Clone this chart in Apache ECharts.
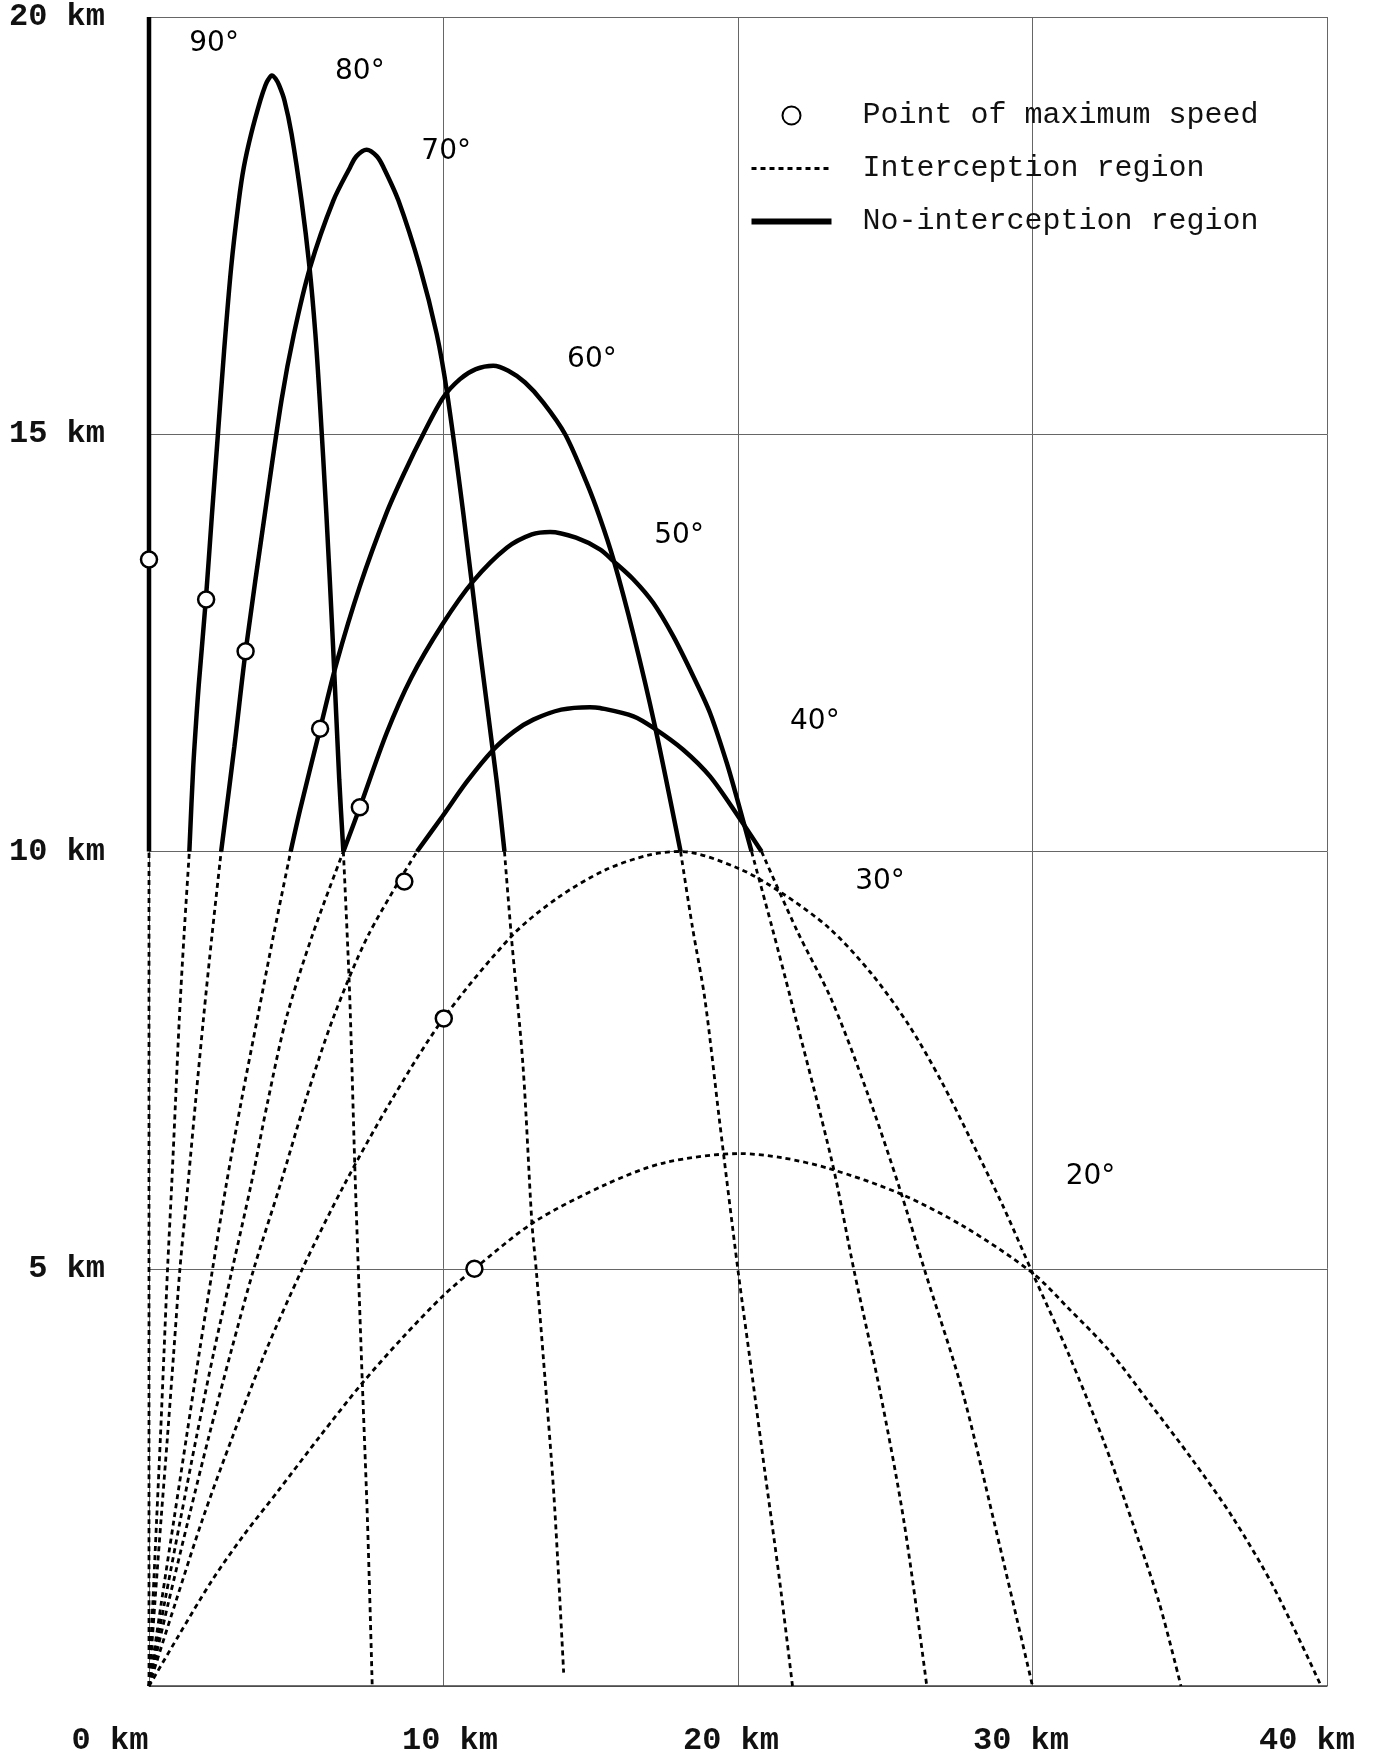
<!DOCTYPE html>
<html>
<head>
<meta charset="utf-8">
<script src="https://cdn.jsdelivr.net/npm/echarts@6/dist/echarts.min.js"></script>
<style>
html,body{margin:0;padding:0;background:#fff;}
#chart{width:1373px;height:1758px;}
</style>
</head>
<body>
<div id="chart"></div>
<script>
// ---- tick labels ----
const xTickValues = [0, 10, 20, 30, 40];
const xTickLabels = ['0 km', '10 km', '20 km', '30 km', '40 km'];
const yTickValues = [5, 10, 15, 20];
const yTickLabels = ['5 km', '10 km', '15 km', '20 km'];

// ---- legend names ----
const legendNames = ['Point of maximum speed', 'Interception region', 'No-interception region'];

// ---- trajectories [x km, y km] ----
const dotted90 = [[0,0],[0,10]];
const solid90 = [[0,10],[0,20]];

const dottedUp80 = [[0,0],[0.13,1],[0.26,2],[0.39,3],[0.51,4],[0.63,5],[0.77,6],[0.9,7],[1.03,8],[1.19,9],[1.37,10]];
const solid80 = [[1.37,10],[1.5,11],[1.62,11.66],[1.69,12],[1.93,13.02],[2.13,14],[2.34,15],[2.55,16],[2.79,17],[3.05,17.8],[3.22,18.2],[3.47,18.6],[3.78,19.0],[3.95,19.18],[4.05,19.25],[4.17,19.3],[4.3,19.26],[4.42,19.18],[4.6,19.0],[4.84,18.6],[5.18,17.8],[5.45,17.0],[5.65,16.2],[5.8,15.4],[6.02,14.06],[6.25,12.46],[6.46,10.86],[6.6,10]];
const dottedDown80 = [[6.6,10],[6.81,8.32],[6.99,6.21],[7.11,4.97],[7.24,3.67],[7.42,1.96],[7.58,0]];

const dottedUp70 = [[0,0],[0.2,1],[0.41,2],[0.63,3],[0.84,4],[1.05,5],[1.32,6],[1.58,7],[1.85,8],[2.14,9],[2.45,10]];
const solid70 = [[2.45,10],[2.9,11.26],[3.28,12.4],[3.94,14.06],[4.5,15.41],[4.92,16.2],[5.47,17.0],[6.26,17.8],[6.83,18.2],[7.04,18.33],[7.39,18.41],[7.74,18.33],[7.96,18.2],[8.47,17.8],[9.2,17.0],[9.77,16.2],[10.12,15.5],[10.67,14.06],[11.22,12.46],[11.8,10.86],[12.07,10]];
const dottedDown70 = [[12.07,10],[12.3,9.0],[12.7,7.43],[13.0,5.56],[13.15,4.98],[13.4,3.89],[13.75,2.28],[14.08,0.16]];

const dottedUp60 = [[0,0],[0.42,1],[0.85,2],[1.28,3],[1.71,4],[2.16,5],[2.62,6],[3.13,7],[3.68,8],[4.23,9],[4.81,10]];
const solid60 = [[4.81,10],[5.13,10.5],[5.81,11.47],[6.37,12.26],[7.16,13.18],[8.07,14.06],[8.7,14.56],[9.31,15.0],[9.99,15.44],[10.56,15.66],[11.1,15.78],[11.69,15.82],[12.2,15.76],[12.77,15.62],[13.39,15.38],[14.13,15.0],[14.86,14.42],[15.31,14.0],[15.77,13.5],[16.45,12.6],[17.18,11.5],[18.05,10]];
const dottedDown60 = [[18.05,10],[18.45,9.1],[18.88,8.22],[19.37,6.78],[20.0,4.98],[20.45,3.8],[20.9,2.6],[21.4,1.3],[21.85,0]];

const dottedUp50 = [[0,0],[0.53,1],[1.07,2],[1.62,3],[2.2,4],[2.83,5],[3.46,6],[4.03,7],[4.66,8],[5.55,9],[6.6,10]];
const solid50 = [[6.6,10],[7.16,10.53],[8.07,11.42],[8.9,12.08],[9.96,12.72],[11.01,13.24],[12.15,13.64],[13.0,13.8],[13.62,13.83],[14.5,13.76],[15.31,13.62],[15.77,13.48],[16.45,13.26],[17.12,12.98],[17.8,12.58],[18.48,12.1],[19.05,11.66],[19.62,11.06],[20.01,10.58],[20.46,10.0]];
const dottedDown50 = [[20.46,10],[21.15,9.1],[21.8,8.22],[23.2,6.27],[23.94,4.98],[24.8,3.57],[25.64,1.96],[26.41,0]];

const dottedUp40 = [[0,0],[0.66,1],[1.34,2],[2.04,3],[2.78,4],[3.56,5],[4.45,6],[5.3,7],[6.25,8],[7.45,9],[9.1,10]];
const solid40 = [[9.1,10],[9.96,10.42],[10.8,10.84],[11.69,11.22],[12.4,11.44],[13.05,11.58],[14.0,11.7],[14.97,11.73],[15.31,11.72],[16.45,11.62],[17.18,11.47],[18.14,11.22],[19.05,10.9],[20.01,10.42],[20.8,10.0]];
const dottedDown40 = [[20.8,10],[22.02,9.04],[23.18,8.22],[24.4,7.1],[25.5,5.95],[26.34,4.98],[27.59,3.57],[28.7,1.96],[30.0,0]];

const dotted30 = [[0,0],[0.9,1],[1.82,2],[2.85,3],[3.95,4],[5.21,5],[6.62,6],[8.2,7],[10.0,8],[12.35,9],[13.9,9.45],[15.5,9.78],[17.0,9.96],[18.05,10.0],[20.0,9.8],[21.5,9.5],[23.1,9.08],[24.5,8.55],[25.8,7.92],[26.9,7.25],[27.9,6.55],[29.0,5.75],[30.0,4.95],[31.2,4.0],[32.4,2.95],[33.5,1.85],[34.3,1.0],[35.04,0]];

const dotted20 = [[0,0],[1.0,0.6],[2.13,1.26],[3.2,1.8],[4.39,2.34],[5.8,2.99],[7.22,3.62],[8.6,4.17],[10.0,4.68],[11.05,5.0],[13.08,5.56],[15.51,6.01],[17.5,6.27],[20.06,6.38],[21.5,6.33],[23.1,6.2],[25.5,5.9],[27.7,5.5],[30.0,4.95],[31.21,4.53],[32.6,4.02],[34.0,3.38],[35.39,2.73],[36.78,2.03],[38.18,1.19],[39.8,0]];

// ---- points of maximum speed ----
const maxSpeedPoints = [[0,13.5],[1.94,13.02],[3.28,12.4],[5.81,11.47],[7.16,10.53],[8.67,9.64],[10.01,8.0],[11.05,5.0]];

// ---- angle labels ----
const angleLabels = ['90°','80°','70°','60°','50°','40°','30°','20°'];
const angleLabelPos = [[2.21,19.68],[7.16,19.35],[10.09,18.38],[15.04,15.89],[18.0,13.79],[22.61,11.55],[24.82,9.64],[31.97,6.1]];

// ---- build series ----
const MONO = 'Liberation Mono';
const solidStyle = {color:'#000', width:4.5};
const dottedStyle = {color:'#000', width:2.8, type:[5,4]};
const noFill = {color:'rgba(0,0,0,0)'};

function solidSeries(data){
  return {type:'line', name:legendNames[2], data:data, symbol:'none', smooth:0.3,
          lineStyle:solidStyle, itemStyle:noFill, z:3, silent:true};
}
function dottedSeries(data){
  return {type:'line', name:legendNames[1], data:data, symbol:'none', smooth:0.3,
          lineStyle:dottedStyle, itemStyle:noFill, z:2, silent:true};
}

const series = [
  dottedSeries(dotted90), solidSeries(solid90),
  dottedSeries(dottedUp80), solidSeries(solid80), dottedSeries(dottedDown80),
  dottedSeries(dottedUp70), solidSeries(solid70), dottedSeries(dottedDown70),
  dottedSeries(dottedUp60), solidSeries(solid60), dottedSeries(dottedDown60),
  dottedSeries(dottedUp50), solidSeries(solid50), dottedSeries(dottedDown50),
  dottedSeries(dottedUp40), solidSeries(solid40), dottedSeries(dottedDown40),
  dottedSeries(dotted30),
  dottedSeries(dotted20),
  {type:'scatter', name:legendNames[0], data:maxSpeedPoints, symbol:'circle', symbolSize:16,
   itemStyle:{color:'#fff', borderColor:'#000', borderWidth:2.5, opacity:1}, z:10, silent:true},
  {type:'custom', name:'angles', silent:true, z:11,
   data: angleLabelPos.map((p,i)=>[p[0], p[1], i]),
   encode:{x:0, y:1},
   renderItem:(params, api)=>{
     const pt = api.coord([api.value(0), api.value(1)]);
     return {type:'text', x:pt[0], y:pt[1],
             style:{text:angleLabels[api.value(2)], fill:'#000',
                    font:'28px "DejaVu Sans"', align:'center', verticalAlign:'middle'}};
   }}
];

const xRich = {};
const xPads = [[0,78,0,0],[0,0,0,13],[0,14,0,0],[0,23,0,0],[0,40,0,0]];
xTickValues.forEach((v,i)=>{
  xRich['t'+v] = {fontFamily:MONO, fontWeight:'bold', fontSize:32, color:'#111', padding:xPads[i]};
});

const option = {
  animation:false,
  backgroundColor:'#fff',
  grid:{left:149, right:46, top:17, bottom:72, containLabel:false},
  xAxis:{
    type:'value', min:0, max:40, interval:10,
    axisLine:{show:true, onZero:false, lineStyle:{color:'#444', width:1.5}},
    axisTick:{show:false},
    splitLine:{show:true, lineStyle:{color:'#666', width:1}},
    axisLabel:{
      margin:39,
      formatter:(v)=>{ const i = xTickValues.indexOf(v); return i<0 ? '' : '{t'+v+'|'+xTickLabels[i]+'}'; },
      rich:xRich
    }
  },
  yAxis:{
    type:'value', min:0, max:20, interval:5,
    axisLine:{show:false},
    axisTick:{show:false},
    splitLine:{show:true, lineStyle:{color:'#666', width:1}},
    axisLabel:{
      margin:44, fontFamily:MONO, fontWeight:'bold', fontSize:32, color:'#111',
      formatter:(v)=>{ const i = yTickValues.indexOf(v); return i<0 ? '' : yTickLabels[i]; }
    }
  },
  legend:{
    orient:'vertical', left:743.5, top:95.5, itemWidth:80, itemHeight:18, itemGap:23,
    selectedMode:false,
    textStyle:{fontFamily:MONO, fontSize:30, color:'#111', lineHeight:30, padding:[0,0,0,26]},
    data:[
      {name:legendNames[0], icon:'circle', itemStyle:{color:'#fff', borderColor:'#000', borderWidth:2}},
      {name:legendNames[1], lineStyle:{color:'#000', width:2.8, type:[5,4]}, itemStyle:{color:'rgba(0,0,0,0)', borderWidth:0, opacity:0}},
      {name:legendNames[2], lineStyle:{color:'#000', width:6}, itemStyle:{color:'rgba(0,0,0,0)', borderWidth:0, opacity:0}}
    ]
  },
  series:series
};

const chart = echarts.init(document.getElementById('chart'), null, {renderer:'canvas'});
chart.setOption(option);
</script>
</body>
</html>
